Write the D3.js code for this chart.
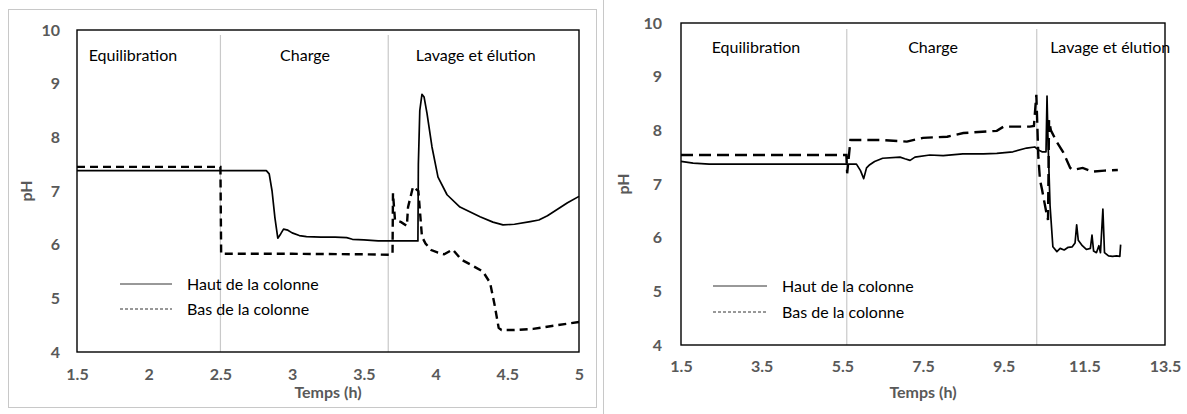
<!DOCTYPE html>
<html>
<head>
<meta charset="utf-8">
<script src="https://cdn.jsdelivr.net/npm/d3@7"></script>
<style>
  body { margin: 0; background: #fff; }
  svg text { font-family: Lato, "Noto Sans", sans-serif; }
</style>
</head>
<body>
<svg id="chart" width="1187" height="414"></svg>
<script>
// ---- data ----
const yTicks = [4, 5, 6, 7, 8, 9, 10];
const leftXTicks = [1.5, 2, 2.5, 3, 3.5, 4, 4.5, 5];
const rightXTicks = [1.5, 3.5, 5.5, 7.5, 9.5, 11.5, 13.5];

const phaseNames = ['Equilibration', 'Charge', 'Lavage et élution'];
const seriesNames = ['Haut de la colonne', 'Bas de la colonne'];

// phase boundaries (h)
const leftBounds = [2.5, 3.67];
const rightBounds = [5.61, 10.32];

// left panel: [temps, pH]
const leftHaut = [
  [1.5, 7.38], [2.82, 7.38], [2.84, 7.32], [2.86, 7.0], [2.88, 6.5], [2.9, 6.12],
  [2.92, 6.2], [2.94, 6.29], [2.97, 6.27], [3.0, 6.22], [3.05, 6.17], [3.1, 6.15],
  [3.2, 6.14], [3.3, 6.14], [3.38, 6.13], [3.42, 6.1], [3.5, 6.09], [3.6, 6.07],
  [3.7, 6.07], [3.877, 6.07], [3.88, 7.5], [3.89, 8.5], [3.905, 8.8], [3.92, 8.75],
  [3.94, 8.45], [3.975, 7.82], [4.017, 7.26], [4.08, 6.93], [4.17, 6.7], [4.31, 6.52],
  [4.4, 6.42], [4.47, 6.37], [4.55, 6.38], [4.66, 6.43], [4.72, 6.46], [4.78, 6.54],
  [4.85, 6.66], [4.92, 6.78], [5.0, 6.9]
];
const leftBas = [
  [1.5, 7.45], [2.5, 7.45], [2.505, 5.83], [3.0, 5.83], [3.5, 5.82], [3.69, 5.81],
  [3.70, 5.85], [3.703, 6.96], [3.717, 6.46], [3.76, 6.42], [3.8, 6.35], [3.808, 6.7],
  [3.843, 7.08], [3.88, 7.0], [3.905, 6.15], [3.93, 6.02], [3.97, 5.9], [4.017, 5.85],
  [4.06, 5.82], [4.12, 5.91], [4.18, 5.72], [4.25, 5.62], [4.33, 5.5], [4.38, 5.29],
  [4.41, 4.9], [4.44, 4.45], [4.46, 4.41], [4.55, 4.41], [4.68, 4.43], [4.8, 4.48],
  [5.0, 4.56]
];

// right panel: [temps, pH]
const rightHaut = [
  [1.5, 7.42], [1.8, 7.39], [2.2, 7.37], [5.5, 7.37], [5.85, 7.37], [5.95, 7.25],
  [6.03, 7.1], [6.1, 7.3], [6.18, 7.36], [6.3, 7.42], [6.5, 7.48], [6.93, 7.5],
  [7.05, 7.47], [7.18, 7.44], [7.3, 7.5], [7.67, 7.54], [8.0, 7.53], [8.49, 7.56],
  [9.0, 7.56], [9.33, 7.57], [9.73, 7.6], [10.07, 7.67], [10.27, 7.69], [10.35, 7.64],
  [10.45, 7.6], [10.55, 7.6], [10.575, 8.64], [10.6, 7.8], [10.65, 6.6], [10.72, 5.83],
  [10.82, 5.74], [10.9, 5.8], [11.0, 5.77], [11.1, 5.82], [11.2, 5.83], [11.27, 5.9],
  [11.31, 6.24], [11.35, 5.95], [11.45, 5.85], [11.55, 5.78], [11.65, 5.8], [11.69, 6.05],
  [11.73, 5.75], [11.8, 5.72], [11.86, 5.85], [11.9, 5.72], [11.96, 6.53], [12.0, 5.72],
  [12.1, 5.66], [12.2, 5.65], [12.3, 5.66], [12.38, 5.65], [12.4, 5.87]
];
const rightBas = [
  [1.5, 7.54], [5.6, 7.54], [5.62, 7.2], [5.66, 7.5], [5.7, 7.82], [6.0, 7.82],
  [6.43, 7.82], [7.1, 7.79], [7.5, 7.86], [8.1, 7.88], [8.5, 7.95], [9.33, 7.99],
  [9.5, 8.07], [10.15, 8.07], [10.25, 8.08], [10.31, 8.66], [10.36, 7.5], [10.4, 7.08],
  [10.45, 6.9], [10.55, 6.5], [10.6, 6.33], [10.625, 8.19], [10.67, 8.0], [10.82, 7.78],
  [10.97, 7.6], [11.15, 7.3], [11.22, 7.26], [11.46, 7.3], [11.7, 7.23], [12.0, 7.25],
  [12.33, 7.26]
];

// ---- drawing ----
const svg = d3.select('#chart');

// frame around the left picture and separator
svg.append('rect')
  .attr('x', 8.5).attr('y', 9.5)
  .attr('width', 588).attr('height', 398)
  .attr('fill', 'none').attr('stroke', '#c8c8c8');
svg.append('line')
  .attr('x1', 603.5).attr('x2', 603.5)
  .attr('y1', 0).attr('y2', 414)
  .attr('stroke', '#c8c8c8');

function draw_panel (p) {
  let width = p.right - p.left;
  let height = p.bottom - p.top;

  let x = d3.scaleLinear().domain(p.xDomain).range([0, width]);
  let y = d3.scaleLinear().domain([4, 10]).range([height, 0]);

  let g = svg.append('g')
    .attr('transform', `translate(${p.left}, ${p.top})`);

  // phase separators
  g.selectAll('.phase')
    .data(p.bounds)
    .enter().append('line')
    .attr('x1', (d) => x(d)).attr('x2', (d) => x(d))
    .attr('y1', p.sepTop).attr('y2', height)
    .attr('stroke', '#c9c9c9').attr('stroke-width', 1.2);

  // phase names
  g.selectAll('.phaseName')
    .data(phaseNames)
    .enter().append('text')
    .attr('x', (d, i) => x(p.labelX[i]))
    .attr('y', p.labelY)
    .attr('text-anchor', 'middle')
    .style('font-size', '16px')
    .attr('fill', '#000')
    .text((d) => d);

  let line = d3.line()
    .x((d) => x(d[0]))
    .y((d) => y(d[1]));

  g.append('path')
    .datum(p.haut)
    .attr('fill', 'none')
    .attr('stroke', '#000')
    .attr('stroke-width', 1.7)
    .attr('stroke-linejoin', 'round')
    .attr('d', line);

  g.append('path')
    .datum(p.bas)
    .attr('fill', 'none')
    .attr('stroke', '#000')
    .attr('stroke-width', 2.4)
    .attr('stroke-dasharray', p.dash)
    .attr('d', line);

  // plot frame
  g.append('rect')
    .attr('x', 0).attr('y', 0)
    .attr('width', width).attr('height', height)
    .attr('fill', 'none')
    .attr('stroke', '#000')
    .attr('stroke-width', 1.4);

  // y axis
  let yAxis = g.append('g')
    .call(d3.axisLeft(y).tickValues(yTicks).tickSize(0).tickPadding(p.yPad)
      .tickFormat(d3.format('')));
  yAxis.select('.domain').remove();
  yAxis.selectAll('text')
    .style('font-size', '16px').style('font-weight', 'bold')
    .style('font-family', 'Lato, sans-serif')
    .attr('fill', '#595959');

  // x axis
  let xAxis = g.append('g')
    .attr('transform', `translate(0, ${height})`)
    .call(d3.axisBottom(x).tickValues(p.xTicks).tickSize(0).tickPadding(p.xPad)
      .tickFormat(d3.format('')));
  xAxis.select('.domain').remove();
  xAxis.selectAll('text')
    .style('font-size', '16px').style('font-weight', 'bold')
    .style('font-family', 'Lato, sans-serif')
    .attr('fill', '#595959');

  // axis titles
  g.append('text')
    .attr('x', width / 2)
    .attr('y', height + p.xTitleY)
    .attr('text-anchor', 'middle')
    .style('font-size', '16px').style('font-weight', 'bold')
    .attr('fill', '#595959')
    .text('Temps (h)');

  g.append('text')
    .attr('transform', `translate(${p.yTitleX}, ${height / 2}) rotate(-90)`)
    .attr('text-anchor', 'middle')
    .attr('dy', '0.35em')
    .style('font-size', '16px').style('font-weight', 'bold')
    .attr('fill', '#595959')
    .text('pH');

  // handmade legend
  let dashes = [null, '3,2'];
  for (let i = 0; i < seriesNames.length; i++) {
    let curr_y = p.legendY[i];
    g.append('line')
      .attr('x1', p.legendX[0]).attr('x2', p.legendX[1])
      .attr('y1', curr_y).attr('y2', curr_y)
      .attr('stroke', '#333')
      .attr('stroke-width', 1)
      .attr('stroke-dasharray', dashes[i]);
    g.append('text')
      .attr('x', p.legendX[2])
      .attr('y', curr_y)
      .attr('dy', '0.35em')
      .style('font-size', '16px')
      .attr('fill', '#000')
      .text(seriesNames[i]);
  }
}

draw_panel({
  left: 77, right: 579, top: 30, bottom: 352,
  xDomain: [1.5, 5], xTicks: leftXTicks, bounds: leftBounds,
  haut: leftHaut, bas: leftBas, dash: '8,5',
  labelX: [1.89, 3.09, 4.28], labelY: 31, sepTop: 5,
  yPad: 17, xPad: 17, xTitleY: 46, yTitleX: -51,
  legendX: [43, 95, 110], legendY: [254, 279]
});

draw_panel({
  left: 681, right: 1165, top: 23, bottom: 345,
  xDomain: [1.5, 13.5], xTicks: rightXTicks, bounds: rightBounds,
  haut: rightHaut, bas: rightBas, dash: '12,6',
  labelX: [3.36, 7.75, 12.14], labelY: 30, sepTop: 6,
  yPad: 19, xPad: 16, xTitleY: 53, yTitleX: -58,
  legendX: [32, 86, 101], legendY: [263, 289]
});
</script>
</body>
</html>
